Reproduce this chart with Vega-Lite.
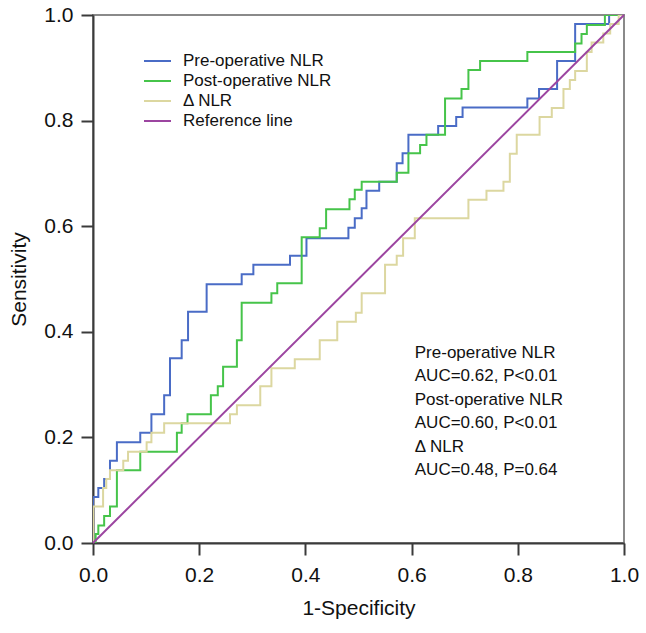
{
  "$schema": "https://vega.github.io/schema/vega-lite/v6.json",
  "width": 531,
  "height": 528,
  "autosize": {"type": "none"},
  "padding": {"left": 93, "top": 15, "right": 22, "bottom": 90},
  "background": "white",
  "config": {
    "font": "Liberation Sans",
    "view": {"stroke": "#8a8a8a", "strokeWidth": 2},
    "axis": {
      "domainColor": "#3a3a3a", "domainWidth": 2, "tickColor": "#3a3a3a", "tickWidth": 2, "tickSize": 12,
      "labelFontSize": 21, "labelColor": "#111", "titleFontSize": 21, "titleColor": "#111", "titleFontWeight": "normal",
      "grid": false, "labelFont": "Liberation Sans", "titleFont": "Liberation Sans", "labelFlush": false, "labelOverlap": false
    },
    "legend": {
      "orient": "none", "legendX": 50, "legendY": 36, "symbolType": "stroke", "symbolSize": 729,
      "symbolStrokeWidth": 2, "clipHeight": 20, "rowPadding": 0, "labelOffset": 11, "padding": 0,
      "labelFontSize": 17, "labelColor": "#111", "labelFont": "Liberation Sans", "title": null, "labelLimit": 300
    }
  },
  "data": {"values": [
    {"series": "Pre-operative NLR", "fpr": 0, "tpr": 0},
    {"series": "Pre-operative NLR", "fpr": 0, "tpr": 0.087},
    {"series": "Pre-operative NLR", "fpr": 0.01, "tpr": 0.104},
    {"series": "Pre-operative NLR", "fpr": 0.021, "tpr": 0.121},
    {"series": "Pre-operative NLR", "fpr": 0.032, "tpr": 0.156},
    {"series": "Pre-operative NLR", "fpr": 0.045, "tpr": 0.191},
    {"series": "Pre-operative NLR", "fpr": 0.089, "tpr": 0.209},
    {"series": "Pre-operative NLR", "fpr": 0.11, "tpr": 0.244},
    {"series": "Pre-operative NLR", "fpr": 0.134, "tpr": 0.28},
    {"series": "Pre-operative NLR", "fpr": 0.145, "tpr": 0.35},
    {"series": "Pre-operative NLR", "fpr": 0.167, "tpr": 0.384},
    {"series": "Pre-operative NLR", "fpr": 0.179, "tpr": 0.438},
    {"series": "Pre-operative NLR", "fpr": 0.214, "tpr": 0.49},
    {"series": "Pre-operative NLR", "fpr": 0.28, "tpr": 0.509},
    {"series": "Pre-operative NLR", "fpr": 0.302, "tpr": 0.527},
    {"series": "Pre-operative NLR", "fpr": 0.371, "tpr": 0.544},
    {"series": "Pre-operative NLR", "fpr": 0.402, "tpr": 0.577},
    {"series": "Pre-operative NLR", "fpr": 0.481, "tpr": 0.597},
    {"series": "Pre-operative NLR", "fpr": 0.493, "tpr": 0.615},
    {"series": "Pre-operative NLR", "fpr": 0.506, "tpr": 0.634},
    {"series": "Pre-operative NLR", "fpr": 0.515, "tpr": 0.667},
    {"series": "Pre-operative NLR", "fpr": 0.539, "tpr": 0.684},
    {"series": "Pre-operative NLR", "fpr": 0.572, "tpr": 0.719},
    {"series": "Pre-operative NLR", "fpr": 0.583, "tpr": 0.738},
    {"series": "Pre-operative NLR", "fpr": 0.594, "tpr": 0.773},
    {"series": "Pre-operative NLR", "fpr": 0.65, "tpr": 0.79},
    {"series": "Pre-operative NLR", "fpr": 0.684, "tpr": 0.807},
    {"series": "Pre-operative NLR", "fpr": 0.696, "tpr": 0.825},
    {"series": "Pre-operative NLR", "fpr": 0.818, "tpr": 0.842},
    {"series": "Pre-operative NLR", "fpr": 0.84, "tpr": 0.86},
    {"series": "Pre-operative NLR", "fpr": 0.874, "tpr": 0.913},
    {"series": "Pre-operative NLR", "fpr": 0.908, "tpr": 0.983},
    {"series": "Pre-operative NLR", "fpr": 0.972, "tpr": 1},
    {"series": "Pre-operative NLR", "fpr": 1, "tpr": 1},
    {"series": "Post-operative NLR", "fpr": 0, "tpr": 0},
    {"series": "Post-operative NLR", "fpr": 0.005, "tpr": 0.017},
    {"series": "Post-operative NLR", "fpr": 0.01, "tpr": 0.033},
    {"series": "Post-operative NLR", "fpr": 0.021, "tpr": 0.051},
    {"series": "Post-operative NLR", "fpr": 0.032, "tpr": 0.069},
    {"series": "Post-operative NLR", "fpr": 0.045, "tpr": 0.138},
    {"series": "Post-operative NLR", "fpr": 0.089, "tpr": 0.173},
    {"series": "Post-operative NLR", "fpr": 0.158, "tpr": 0.209},
    {"series": "Post-operative NLR", "fpr": 0.167, "tpr": 0.227},
    {"series": "Post-operative NLR", "fpr": 0.178, "tpr": 0.244},
    {"series": "Post-operative NLR", "fpr": 0.222, "tpr": 0.28},
    {"series": "Post-operative NLR", "fpr": 0.235, "tpr": 0.297},
    {"series": "Post-operative NLR", "fpr": 0.245, "tpr": 0.334},
    {"series": "Post-operative NLR", "fpr": 0.271, "tpr": 0.384},
    {"series": "Post-operative NLR", "fpr": 0.28, "tpr": 0.455},
    {"series": "Post-operative NLR", "fpr": 0.336, "tpr": 0.473},
    {"series": "Post-operative NLR", "fpr": 0.347, "tpr": 0.492},
    {"series": "Post-operative NLR", "fpr": 0.393, "tpr": 0.579},
    {"series": "Post-operative NLR", "fpr": 0.427, "tpr": 0.596},
    {"series": "Post-operative NLR", "fpr": 0.439, "tpr": 0.632},
    {"series": "Post-operative NLR", "fpr": 0.483, "tpr": 0.651},
    {"series": "Post-operative NLR", "fpr": 0.493, "tpr": 0.669},
    {"series": "Post-operative NLR", "fpr": 0.506, "tpr": 0.684},
    {"series": "Post-operative NLR", "fpr": 0.572, "tpr": 0.701},
    {"series": "Post-operative NLR", "fpr": 0.594, "tpr": 0.738},
    {"series": "Post-operative NLR", "fpr": 0.616, "tpr": 0.754},
    {"series": "Post-operative NLR", "fpr": 0.628, "tpr": 0.773},
    {"series": "Post-operative NLR", "fpr": 0.663, "tpr": 0.842},
    {"series": "Post-operative NLR", "fpr": 0.694, "tpr": 0.86},
    {"series": "Post-operative NLR", "fpr": 0.707, "tpr": 0.896},
    {"series": "Post-operative NLR", "fpr": 0.729, "tpr": 0.913},
    {"series": "Post-operative NLR", "fpr": 0.818, "tpr": 0.93},
    {"series": "Post-operative NLR", "fpr": 0.908, "tpr": 0.946},
    {"series": "Post-operative NLR", "fpr": 0.92, "tpr": 0.964},
    {"series": "Post-operative NLR", "fpr": 0.93, "tpr": 0.981},
    {"series": "Post-operative NLR", "fpr": 0.964, "tpr": 1},
    {"series": "Post-operative NLR", "fpr": 1, "tpr": 1},
    {"series": "Δ NLR", "fpr": 0, "tpr": 0},
    {"series": "Δ NLR", "fpr": 0, "tpr": 0.069},
    {"series": "Δ NLR", "fpr": 0.019, "tpr": 0.104},
    {"series": "Δ NLR", "fpr": 0.025, "tpr": 0.121},
    {"series": "Δ NLR", "fpr": 0.032, "tpr": 0.138},
    {"series": "Δ NLR", "fpr": 0.057, "tpr": 0.156},
    {"series": "Δ NLR", "fpr": 0.066, "tpr": 0.173},
    {"series": "Δ NLR", "fpr": 0.101, "tpr": 0.191},
    {"series": "Δ NLR", "fpr": 0.11, "tpr": 0.209},
    {"series": "Δ NLR", "fpr": 0.134, "tpr": 0.227},
    {"series": "Δ NLR", "fpr": 0.258, "tpr": 0.244},
    {"series": "Δ NLR", "fpr": 0.271, "tpr": 0.261},
    {"series": "Δ NLR", "fpr": 0.315, "tpr": 0.297},
    {"series": "Δ NLR", "fpr": 0.336, "tpr": 0.331},
    {"series": "Δ NLR", "fpr": 0.38, "tpr": 0.348},
    {"series": "Δ NLR", "fpr": 0.427, "tpr": 0.384},
    {"series": "Δ NLR", "fpr": 0.46, "tpr": 0.419},
    {"series": "Δ NLR", "fpr": 0.495, "tpr": 0.436},
    {"series": "Δ NLR", "fpr": 0.506, "tpr": 0.473},
    {"series": "Δ NLR", "fpr": 0.55, "tpr": 0.527},
    {"series": "Δ NLR", "fpr": 0.572, "tpr": 0.544},
    {"series": "Δ NLR", "fpr": 0.584, "tpr": 0.577},
    {"series": "Δ NLR", "fpr": 0.606, "tpr": 0.615},
    {"series": "Δ NLR", "fpr": 0.707, "tpr": 0.65},
    {"series": "Δ NLR", "fpr": 0.741, "tpr": 0.667},
    {"series": "Δ NLR", "fpr": 0.773, "tpr": 0.684},
    {"series": "Δ NLR", "fpr": 0.785, "tpr": 0.737},
    {"series": "Δ NLR", "fpr": 0.798, "tpr": 0.773},
    {"series": "Δ NLR", "fpr": 0.841, "tpr": 0.807},
    {"series": "Δ NLR", "fpr": 0.864, "tpr": 0.824},
    {"series": "Δ NLR", "fpr": 0.886, "tpr": 0.86},
    {"series": "Δ NLR", "fpr": 0.898, "tpr": 0.877},
    {"series": "Δ NLR", "fpr": 0.908, "tpr": 0.894},
    {"series": "Δ NLR", "fpr": 0.93, "tpr": 0.93},
    {"series": "Δ NLR", "fpr": 0.939, "tpr": 0.948},
    {"series": "Δ NLR", "fpr": 0.961, "tpr": 0.965},
    {"series": "Δ NLR", "fpr": 0.974, "tpr": 0.983},
    {"series": "Δ NLR", "fpr": 0.99, "tpr": 1},
    {"series": "Δ NLR", "fpr": 1, "tpr": 1},
    {"series": "Reference line", "fpr": 0, "tpr": 0},
    {"series": "Reference line", "fpr": 1, "tpr": 1}
  ]},
  "encoding": {
    "x": {"field": "fpr", "type": "quantitative", "scale": {"domain": [0, 1], "nice": false, "zero": false},
      "axis": {"title": "1-Specificity", "values": [0, 0.2, 0.4, 0.6, 0.8, 1], "format": ".1f", "labelPadding": 9, "titlePadding": 12}},
    "y": {"field": "tpr", "type": "quantitative", "scale": {"domain": [0, 1], "nice": false, "zero": false},
      "axis": {"title": "Sensitivity", "values": [0, 0.2, 0.4, 0.6, 0.8, 1], "format": ".1f", "labelPadding": 8, "titlePadding": 14}},
    "color": {"field": "series", "type": "nominal",
      "scale": {"domain": ["Pre-operative NLR", "Post-operative NLR", "Δ NLR", "Reference line"],
                "range": ["#4a6cc6", "#46c44a", "#dcd7a0", "#9c45a0"]},
      "legend": {"title": null}}
  },
  "layer": [
    {"transform": [{"filter": "datum.series !== 'Reference line'"}],
     "mark": {"type": "line", "interpolate": "step-after", "strokeWidth": 2, "clip": true}},
    {"transform": [{"filter": "datum.series === 'Reference line'"}],
     "mark": {"type": "line", "strokeWidth": 2}},
    {"transform": [{"filter": "datum.series === 'Reference line' && datum.fpr === 0"}],
     "mark": {"type": "text", "align": "left", "baseline": "middle", "fontSize": 17, "lineHeight": 23.4, "color": "#111", "font": "Liberation Sans",
              "text": ["Pre-operative NLR", "AUC=0.62, P<0.01", "Post-operative NLR", "AUC=0.60, P<0.01", "Δ NLR", "AUC=0.48, P=0.64"]},
     "encoding": {"x": {"datum": 0.606}, "y": {"datum": 0.36}, "color": {"value": "#111"}}}
  ]
}
